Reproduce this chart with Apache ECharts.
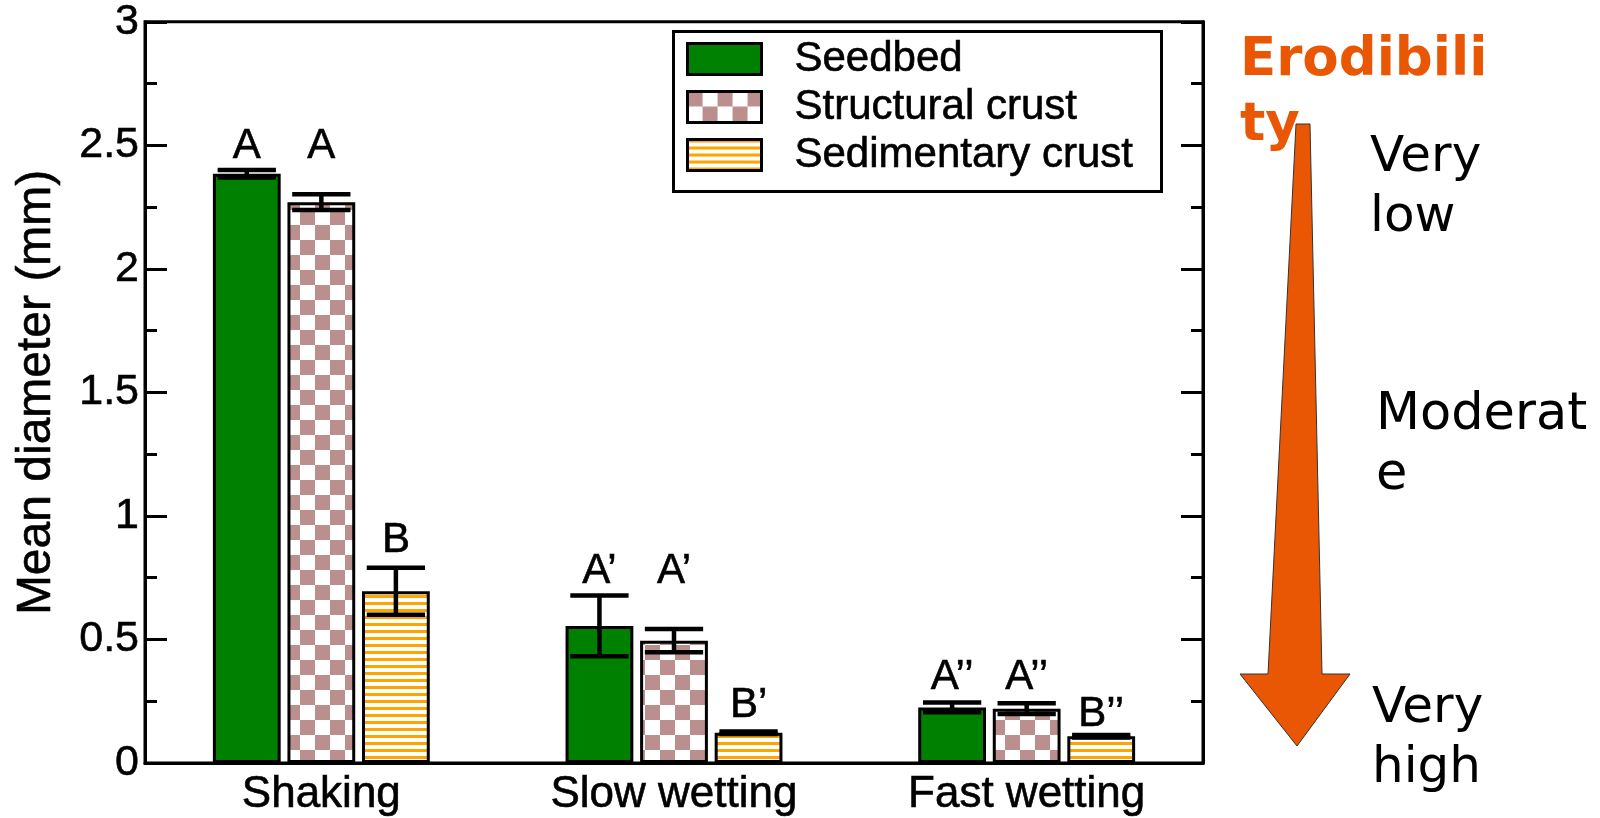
<!DOCTYPE html>
<html>
<head>
<meta charset="utf-8">
<script src="https://cdn.jsdelivr.net/npm/echarts@6/dist/echarts.min.js"></script>
<style>html,body{margin:0;padding:0;background:#fff;}#chart{width:1600px;height:818px;}</style>
</head>
<body>
<div id="chart"></div>
<script>
const categories = ['Shaking', 'Slow wetting', 'Fast wetting'];
const seriesNames = ['Seedbed', 'Structural crust', 'Sedimentary crust'];
const seedbed = [2.385, 0.555, 0.225];
const structural = [2.27, 0.495, 0.22];
const sedimentary = [0.695, 0.122, 0.108];
const seedbedErr = [0.015, 0.123, 0.02];
const structuralErr = [0.032, 0.047, 0.022];
const sedimentaryErr = [0.095, 0.005, 0.005];
const seedbedLetters = ['A', 'A’', 'A’’'];
const structuralLetters = ['A', 'A’', 'A’’'];
const sedimentaryLetters = ['B', 'B’', 'B’’'];
const seedbedLetterY = [2.495, 0.776, 0.345];
const structuralLetterY = [2.495, 0.776, 0.345];
const sedimentaryLetterY = [0.90, 0.235, 0.198];
const yTicks = [0, 0.5, 1, 1.5, 2, 2.5, 3];

const values = [seedbed, structural, sedimentary];
const errs = [seedbedErr, structuralErr, sedimentaryErr];
const letters = [seedbedLetters, structuralLetters, sedimentaryLetters];
const letterY = [seedbedLetterY, structuralLetterY, sedimentaryLetterY];

const FONT = '"Liberation Sans", Arial, Helvetica, sans-serif';
const CAT_GAP = 0.385, BAR_GAP = 0.1;
const TB = { textBorderColor: '#000', textBorderWidth: 0.6 };

function checker() {
  const c = document.createElement('canvas');
  c.width = 30; c.height = 30;
  const g = c.getContext('2d');
  g.fillStyle = '#fff'; g.fillRect(0, 0, 30, 30);
  g.fillStyle = '#BC8F8F';
  g.fillRect(0, 0, 15, 15); g.fillRect(15, 15, 15, 15);
  return c;
}
function stripes() {
  const c = document.createElement('canvas');
  c.width = 10; c.height = 7;
  const g = c.getContext('2d');
  g.fillStyle = '#fff'; g.fillRect(0, 0, 10, 7);
  g.fillStyle = '#FFA500'; g.fillRect(0, 0, 10, 3);
  return c;
}
const fills = ['#008000', { image: checker(), repeat: 'repeat' }, { image: stripes(), repeat: 'repeat' }];

function errRender(si) {
  return function (params, api) {
    const cat = api.value(0), val = api.value(1), err = api.value(2), ly = api.value(3);
    const bandW = api.size([1, 0])[0];
    const w = bandW * (1 - CAT_GAP) / (3 + 2 * BAR_GAP);
    const off = (si - 1) * w * (1 + BAR_GAP);
    const top = api.coord([cat, val + err]);
    const bot = api.coord([cat, val - err]);
    const lab = api.coord([cat, ly]);
    const x = top[0] + off;
    const cw = w * 0.43;
    const st = { stroke: '#000', lineWidth: 4.5 };
    return {
      type: 'group',
      children: [
        { type: 'line', shape: { x1: x, y1: top[1], x2: x, y2: bot[1] }, style: st },
        { type: 'line', shape: { x1: x - cw, y1: top[1], x2: x + cw, y2: top[1] }, style: st },
        { type: 'line', shape: { x1: x - cw, y1: bot[1], x2: x + cw, y2: bot[1] }, style: st },
        { type: 'text', x: x, y: lab[1], style: { text: letters[si][params.dataIndex], fill: '#000', font: '42px ' + FONT, align: 'center', verticalAlign: 'middle', stroke: '#000', lineWidth: 0.6 } }
      ]
    };
  };
}

const series = [];
seriesNames.forEach((n, i) => {
  series.push({
    name: n, type: 'bar', data: values[i], barCategoryGap: (CAT_GAP * 100) + '%', barGap: (BAR_GAP * 100) + '%',
    itemStyle: { color: fills[i], borderColor: '#000', borderWidth: 3 }, z: 2
  });
});
seriesNames.forEach((n, i) => {
  series.push({
    type: 'custom', name: n + ' err', z: 5, silent: true,
    renderItem: errRender(i),
    data: categories.map((c, k) => [k, values[i][k], errs[i][k], letterY[i][k]])
  });
});

const axisCommon = {
  type: 'value', min: 0, max: 3, interval: 0.5,
  axisLine: { show: true, lineStyle: { color: '#000', width: 3 } },
  axisTick: { show: true, inside: true, length: 22, lineStyle: { color: '#000', width: 3 } },
  minorTick: { show: true, splitNumber: 2, length: 12, lineStyle: { color: '#000', width: 3 } },
  splitLine: { show: false }
};

const option = {
  backgroundColor: '#fff',
  animation: false,
  grid: { left: 145, right: 397, top: 20, bottom: 55, show: true, borderColor: '#000', borderWidth: 3, backgroundColor: 'transparent' },
  legend: {
    data: seriesNames, orient: 'vertical', left: 686, top: 35, padding: 0, itemGap: 0,
    itemWidth: 74, itemHeight: 31, icon: 'rect', z: 20,
    itemStyle: { borderColor: '#000', borderWidth: 3 },
    textStyle: Object.assign({ fontFamily: FONT, fontSize: 42, color: '#000', lineHeight: 42, padding: [6, 0, 0, 28] }, TB),
    selectedMode: false
  },
  xAxis: {
    type: 'category', data: categories,
    axisLine: { show: true, lineStyle: { color: '#000', width: 3 } },
    axisTick: { show: false },
    axisLabel: Object.assign({ fontFamily: FONT, fontSize: 44, color: '#000', margin: 10 }, TB)
  },
  yAxis: [
    Object.assign({}, axisCommon, {
      position: 'left',
      name: 'Mean diameter (mm)', nameLocation: 'middle', nameGap: 84,
      nameTextStyle: Object.assign({ fontFamily: FONT, fontSize: 48, color: '#000' }, TB),
      axisLabel: Object.assign({ fontFamily: FONT, fontSize: 43, color: '#000', margin: 6, formatter: v => yTicks.includes(v) ? String(v) : '' }, TB)
    }),
    Object.assign({}, axisCommon, { position: 'right', axisLabel: { show: false } })
  ],
  graphic: [
    { type: 'rect', left: 672, top: 30, shape: { x: 0, y: 0, width: 488, height: 160 }, style: { fill: '#fff', stroke: '#000', lineWidth: 3 }, z: 1 },
    { type: 'polygon', shape: { points: [[1296, 124], [1310, 124], [1322, 674], [1350, 674], [1297, 746], [1240, 674], [1268, 674]] }, style: { fill: '#EA5704', stroke: '#333', lineWidth: 1 }, z: 1 },
    { type: 'text', x: 1240, y: 61, style: { text: 'Erodibili', fill: '#EA5704', font: 'bold 53px "DejaVu Sans"', verticalAlign: 'middle' }, z: 20 },
    { type: 'text', x: 1240, y: 126, style: { text: 'ty', fill: '#EA5704', font: 'bold 53px "DejaVu Sans"', verticalAlign: 'middle' }, z: 20 },
    { type: 'text', x: 1370, y: 158, style: { text: 'Very', fill: '#000', font: '50px "DejaVu Sans"', verticalAlign: 'middle' } },
    { type: 'text', x: 1370, y: 218, style: { text: 'low', fill: '#000', font: '50px "DejaVu Sans"', verticalAlign: 'middle' } },
    { type: 'text', x: 1376, y: 416, style: { text: 'Moderat', fill: '#000', font: '51px "DejaVu Sans"', verticalAlign: 'middle' } },
    { type: 'text', x: 1376, y: 476, style: { text: 'e', fill: '#000', font: '51px "DejaVu Sans"', verticalAlign: 'middle' } },
    { type: 'text', x: 1372, y: 709, style: { text: 'Very', fill: '#000', font: '50px "DejaVu Sans"', verticalAlign: 'middle' } },
    { type: 'text', x: 1372, y: 769, style: { text: 'high', fill: '#000', font: '50px "DejaVu Sans"', verticalAlign: 'middle' } }
  ],
  series: series
};

const chart = echarts.init(document.getElementById('chart'), null, { renderer: 'canvas' });
chart.setOption(option);
</script>
</body>
</html>
